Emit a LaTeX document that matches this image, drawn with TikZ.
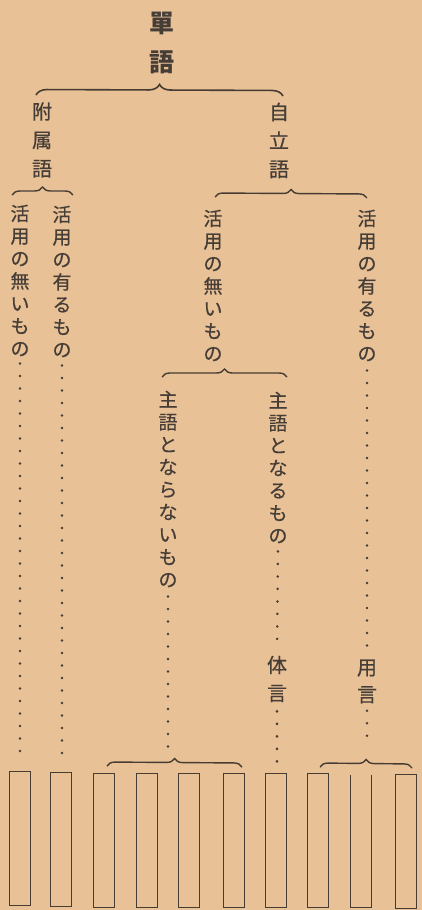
\documentclass[tikz,border=0pt]{standalone}
\usepackage{fontspec}
\newfontfamily\cjk[FakeBold=0.6]{Noto Sans CJK JP}
\newfontfamily\cjkt{Noto Sans CJK JP}
\usetikzlibrary{decorations.pathreplacing}
\definecolor{paper}{HTML}{E8C197}
\definecolor{ink}{HTML}{463C32}
\definecolor{txt}{HTML}{463E36}
\begin{document}
\begin{tikzpicture}[x=1pt,y=-1pt,
  vcol/.style={font=\cjk\fontsize{19}{22.5}\selectfont, text=txt, align=center, inner sep=0pt},
  vcolw/.style={font=\cjk\fontsize{20}{28.5}\selectfont, text=txt, align=center, inner sep=0pt},
  titletext/.style={font=\cjkt\bfseries\fontsize{25}{39}\selectfont, text=txt, align=center, inner sep=0pt},
  bigbrace/.style={draw=ink, line width=1.6pt, decorate, decoration={brace, amplitude=11pt}},
  smallbrace/.style={draw=ink, line width=1.4pt, decorate, decoration={brace, amplitude=8pt}},
  dotl/.style={draw=ink, line width=2.8pt, line cap=round, dash pattern=on 0pt off 12.5pt},
  slot/.style={draw=ink, line width=1pt, minimum width=20.5pt, minimum height=134pt, inner sep=0pt, anchor=north west},
  openslot/.style={minimum width=21pt, minimum height=132pt, inner sep=0pt, anchor=north west}]
\fill[paper] (0,0) rectangle (422,910);

% titles
\node[titletext] (tango) at (162,43) {單\\語};
\node[vcolw] (fuzoku) at (42,140) {附\\属\\語};
\node[vcolw] (jiritsu) at (279,140.5) {自\\立\\語};

% braces
\coordinate (brTopL) at (36,95); \coordinate (brTopR) at (283,96);
\draw[bigbrace] (brTopL) -- (brTopR);
\coordinate (brFL) at (12,195); \coordinate (brFR) at (73,195);
\draw[smallbrace] (brFL) -- (brFR);
\coordinate (brJL) at (215,197); \coordinate (brJR) at (367,198);
\draw[smallbrace] (brJL) -- (brJR);
\coordinate (brNL) at (162,377); \coordinate (brNR) at (287,377);
\draw[smallbrace] (brNL) -- (brNR);
\coordinate (brAL) at (107,766); \coordinate (brAR) at (242,767);
\draw[smallbrace] (brAL) -- (brAR);
\coordinate (brA) at (173,758);
\coordinate (brBL) at (320,767); \coordinate (brBR) at (412,768);
\draw[smallbrace] (brBL) -- (brBR);
\coordinate (brB) at (365,761);

% columns
\node[vcol] (c1) at (20,280.5) {活\\用\\の\\無\\い\\も\\の};
\node[vcol] (c2) at (62,281.5) {活\\用\\の\\有\\る\\も\\の};
\node[vcol] (c3) at (213,285.5) {活\\用\\の\\無\\い\\も\\の};
\node[vcol] (c4) at (367,285.5) {活\\用\\の\\有\\る\\も\\の};
\node[vcol] (c5) at (168,489) {主\\語\\と\\な\\ら\\な\\い\\も\\の};
\node[vcol] (c6) at (278,467.5) {主\\語\\と\\な\\る\\も\\の};
\node[vcolw, font=\cjk\fontsize{20}{28}\selectfont] (tai) at (277,679) {体\\言};
\node[vcolw, font=\cjk\fontsize{20}{27}\selectfont] (you) at (367,681.5) {用\\言};

% slots
\node[slot] (b1) at (9,771) {};
\node[slot] (b2) at (50,772) {};
\node[slot] (b3) at (93,773) {};
\node[slot] (b4) at (136,773) {};
\node[slot] (b5) at (178,773) {};
\node[slot] (b6) at (223,773) {};
\node[slot] (b7) at (265,773) {};
\node[slot] (b8) at (307,773) {};
\node[openslot] (b9) at (350,775) {};
\draw[ink, line width=1pt] (b9.north west) -- (b9.south west) -- (b9.south east) -- (b9.north east);
\node[slot] (b10) at (395,774) {};

% dotted leaders
\draw[dotl, shorten <=7pt, shorten >=9pt] (c1.south) -- (c1.south |- b1.north);
\draw[dotl, shorten <=8pt, shorten >=7pt] (c2.south) -- (c2.south |- b2.north);
\draw[dotl, shorten <=9pt, shorten >=11pt] (c5.south) -- (c5.south |- brA);
\draw[dotl, shorten <=8pt, shorten >=12pt] (c6.south) -- (tai.north);
\draw[dotl, shorten <=9pt, shorten >=4pt] (tai.south) -- (tai.south |- b7.north);
\draw[dotl, shorten <=9pt, shorten >=12pt] (c4.south) -- (you.north);
\draw[dotl, shorten <=7pt, shorten >=14pt] (you.south) -- (you.south |- brB);
\end{tikzpicture}
\end{document}
